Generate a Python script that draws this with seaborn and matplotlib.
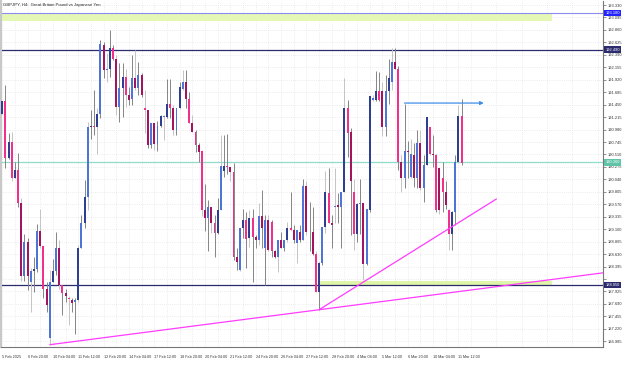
import numpy as np
import pandas as pd
import matplotlib
matplotlib.use("Agg")
import matplotlib.pyplot as plt
import matplotlib.transforms as mtransforms
import seaborn as sns

# ---------------- data (GBPJPY H4) ----------------
opens = [191.27, 191.51, 190.44, 190.74, 190.07, 190.22, 189.60, 188.22, 188.85, 188.11,
         188.32, 188.34, 189.07, 188.79, 187.98, 187.04, 188.11, 188.32, 188.75, 188.05,
         187.89, 187.80, 187.76, 187.73, 187.76, 188.74, 189.21, 189.71, 191.03, 191.05,
         191.03, 191.27, 192.58, 192.10, 192.13, 192.51, 192.32, 191.41, 191.76, 191.98,
         191.64, 191.56, 191.96, 191.76, 192.01, 191.38, 191.35, 190.69, 191.10, 190.70,
         191.05, 191.22, 191.22, 191.46, 191.39, 190.98, 191.39, 191.74, 191.88, 191.55,
         191.11, 190.94, 190.69, 190.58, 189.47, 189.32, 189.51, 189.21, 189.02, 189.46,
         190.20, 190.30, 190.28, 190.17, 188.58, 188.33, 189.13, 189.27, 188.93, 189.31,
         188.96, 188.90, 189.34, 188.74, 189.27, 189.24, 188.68, 188.58, 188.90, 188.74,
         188.90, 189.13, 189.08, 188.83, 189.05, 188.90, 189.92, 189.05, 189.05, 188.64,
         187.92, 188.46, 189.15, 189.78, 189.21, 189.51, 189.56, 189.51, 189.80, 191.39,
         190.94, 189.81, 189.00, 189.57, 189.59, 188.44, 189.46, 191.54, 191.54, 191.71,
         191.71, 191.03, 191.71, 191.88, 192.26, 192.13, 190.37, 190.06, 190.57, 190.09,
         190.50, 190.07, 190.72, 189.88, 190.31, 191.03, 190.51, 190.50, 190.25, 190.07,
         189.81, 189.46, 189.00, 189.43, 190.37, 191.24]
highs = [191.51, 191.82, 190.91, 190.93, 190.37, 190.53, 189.68, 189.00, 188.93, 188.36,
         188.58, 189.19, 189.49, 188.79, 188.11, 188.33, 188.54, 189.05, 188.90, 188.05,
         187.98, 187.83, 187.80, 187.80, 188.80, 189.37, 190.03, 191.13, 191.35, 191.73,
         191.38, 192.67, 192.64, 192.42, 192.85, 192.58, 192.39, 192.23, 192.23, 192.13,
         191.79, 192.39, 192.48, 192.25, 192.04, 191.73, 191.35, 191.10, 191.10, 191.14,
         191.25, 191.25, 191.93, 191.93, 191.44, 191.39, 191.88, 192.10, 192.10, 191.69,
         191.25, 190.97, 190.72, 190.59, 189.96, 189.66, 189.51, 189.37, 189.69, 190.88,
         190.88, 190.89, 190.28, 190.34, 188.74, 189.13, 189.49, 189.43, 189.46, 189.49,
         188.99, 189.59, 189.84, 189.37, 189.37, 189.27, 188.71, 188.90, 189.05, 188.90,
         189.24, 189.81, 189.18, 189.08, 189.18, 190.05, 190.00, 189.62, 189.52, 188.68,
         188.49, 189.15, 190.19, 190.25, 189.37, 190.25, 189.78, 189.81, 191.96, 191.54,
         191.00, 190.05, 189.59, 190.05, 189.59, 189.49, 191.61, 191.63, 192.08, 192.07,
         191.88, 192.01, 192.32, 192.51, 192.51, 192.17, 190.50, 191.47, 190.76, 190.81,
         190.72, 190.97, 190.97, 190.50, 191.22, 191.03, 190.88, 190.51, 190.25, 190.37,
         190.00, 189.49, 189.44, 190.50, 191.44, 191.55]
lows = [191.27, 190.25, 190.42, 190.00, 190.06, 189.51, 188.13, 188.13, 187.95, 187.53,
        187.92, 188.30, 188.74, 187.80, 187.54, 186.92, 188.10, 188.24, 187.98, 187.49,
        187.73, 187.29, 187.54, 187.12, 187.73, 188.74, 189.12, 189.46, 190.81, 190.88,
        190.52, 191.19, 191.96, 191.88, 191.98, 192.29, 191.25, 191.13, 191.22, 191.41,
        191.44, 191.44, 191.73, 191.63, 191.60, 190.91, 190.64, 190.64, 190.59, 190.57,
        191.03, 190.78, 191.19, 191.19, 190.88, 190.88, 191.38, 191.73, 191.38, 191.10,
        190.94, 190.56, 190.37, 189.34, 189.07, 188.69, 189.02, 188.58, 189.00, 189.46,
        190.09, 190.15, 190.00, 188.52, 188.33, 188.31, 188.93, 188.36, 188.77, 188.11,
        188.74, 188.80, 188.74, 188.05, 188.68, 188.58, 188.55, 188.30, 188.74, 188.68,
        188.86, 189.08, 188.83, 188.46, 188.86, 188.90, 188.99, 188.68, 188.61, 187.92,
        187.58, 188.42, 189.02, 189.21, 188.74, 189.21, 189.21, 188.74, 189.80, 190.47,
        188.99, 188.71, 188.86, 189.00, 188.14, 188.42, 189.42, 191.51, 191.52, 191.52,
        190.85, 190.85, 191.46, 191.73, 192.13, 190.22, 189.81, 189.87, 190.06, 190.06,
        189.90, 189.87, 189.84, 189.62, 190.31, 190.50, 190.28, 189.43, 189.38, 189.43,
        189.49, 188.71, 188.71, 189.18, 190.34, 190.31]
closes = [191.51, 190.44, 190.74, 190.07, 190.22, 189.60, 188.22, 188.85, 188.22, 188.32,
          188.34, 189.07, 188.79, 187.98, 187.66, 188.11, 188.32, 188.75, 188.05, 187.89,
          187.83, 187.78, 187.71, 187.76, 188.74, 189.21, 189.71, 191.03, 191.05, 191.03,
          191.27, 192.59, 192.10, 192.13, 192.51, 192.32, 191.41, 191.76, 191.98, 191.64,
          191.54, 191.96, 191.76, 192.01, 191.64, 191.35, 190.69, 191.10, 190.70, 191.05,
          191.24, 191.24, 191.46, 191.39, 190.98, 191.39, 191.79, 191.88, 191.55, 191.11,
          190.94, 190.69, 190.56, 189.47, 189.32, 189.51, 189.21, 189.02, 189.46, 190.30,
          190.30, 190.28, 190.17, 188.58, 188.49, 189.13, 189.27, 188.91, 189.31, 188.96,
          188.90, 189.34, 189.12, 189.27, 188.71, 188.68, 188.58, 188.90, 188.75, 188.90,
          189.13, 189.08, 188.90, 189.08, 188.90, 189.92, 189.05, 189.04, 188.64, 187.92,
          188.46, 189.15, 189.81, 189.21, 189.17, 189.53, 189.51, 189.81, 191.39, 190.92,
          190.00, 189.00, 189.57, 189.59, 188.44, 189.49, 191.61, 191.58, 191.71, 191.54,
          191.03, 191.71, 191.96, 192.26, 192.13, 190.37, 190.06, 190.57, 190.55, 190.51,
          190.07, 190.72, 189.88, 190.31, 191.22, 190.51, 190.50, 189.46, 189.46, 189.81,
          189.56, 189.00, 189.43, 190.37, 191.24, 190.35]

time_labels = ["5 Feb 2025", "6 Feb 20:00", "10 Feb 04:00", "11 Feb 12:00", "12 Feb 20:00",
               "14 Feb 04:00", "17 Feb 12:00", "18 Feb 20:00", "20 Feb 04:00", "21 Feb 12:00",
               "24 Feb 20:00", "26 Feb 04:00", "27 Feb 12:00", "28 Feb 20:00", "4 Mar 04:00",
               "5 Mar 12:00", "6 Mar 20:00", "10 Mar 04:00", "11 Mar 12:00"]
label_step = 8

price_ticks = [186.985 + 0.235 * k for k in range(28)]
hidden_tick = 188.160   # covered by the price box in the reference

# horizontal levels
level_blue = 193.18
level_top = 192.49
level_teal = 190.36
level_low = 188.05
band_top = (193.02, 193.16)
band_low = (188.05, 188.13)
band_top_x = (-1, 173.5)
band_low_x = (99.7, 173.5)

# trend lines (bar index, price)
trend1_x = [15, 100]
trend1_y = [186.92, 187.58]
trend2_x = [100, 156]
trend2_y = [187.58, 189.67]
arrow_x = [127, 152]
arrow_y = 191.48

title = "GBPJPY, H4:  Great Britain Pound vs Japanese Yen"

# ---------------- drawing ----------------
sns.set_style("white")
plt.rcParams['font.family'] = ['Liberation Sans', 'DejaVu Sans']
FSX = 2.7
FSY = 2.9

df = pd.DataFrame({"o": opens, "h": highs, "l": lows, "c": closes})
df["i"] = np.arange(len(df))
up = df["c"] >= df["o"]

fig = plt.figure(figsize=(6.25, 3.70), dpi=100)
fig.patch.set_facecolor("white")
ax = fig.add_axes([0.0016, 0.0622, 0.963, 0.935])
ax.set_facecolor("white")

XMIN, XMAX = -0.4, 189.6
YMIN, YMAX = 186.877, 193.405
ax.set_xlim(XMIN, XMAX)
ax.set_ylim(YMIN, YMAX)

# grid
ax.set_yticks(price_ticks)
ax.set_yticklabels(["" if abs(t - hidden_tick) < 1e-6 else f"{t:.3f}" for t in price_ticks])
ax.set_xticks(np.arange(0, label_step * len(time_labels), label_step))
ax.set_xticklabels(time_labels, ha="left")
ax.set_xticks(np.arange(4, 190, 8), minor=True)
ax.grid(True, which="both", linestyle=(0, (1, 2)), color="#dcdcdc", lw=0.5)
ax.set_axisbelow(True)

# bands
ax.fill_between(band_top_x, band_top[0], band_top[1], color="#e4f7b5", lw=0, zorder=1)
ax.fill_between(band_low_x, band_low[0], band_low[1], color="#dff5a8", lw=0, zorder=1)

# horizontal lines
ax.axhline(level_blue, color="#8a8af0", lw=0.8, zorder=2)
ax.axhline(level_top, color="#2b2b6e", lw=0.9, zorder=2)
ax.axhline(level_teal, color="#8fdcc8", lw=0.9, zorder=2)
ax.axhline(level_low, color="#2b2b6e", lw=0.9, zorder=2)

# candles
bull_c = np.where(df["i"] % 2 == 0, "#2e3f8f", "#4d74d6")
bear_c = np.where(df["i"] % 2 == 0, "#a3145f", "#f0308a")
body_col = np.where(up, bull_c, bear_c)
wick_col = np.where(df["i"] % 3 == 0, "#c4c4c4", "#858585")
ax.vlines(df["i"], df["l"], df["h"], colors=wick_col, lw=0.7, zorder=3)
bottoms = np.minimum(df["o"], df["c"])
heights = np.maximum(np.abs(df["c"] - df["o"]), 0.012)
ax.bar(df["i"], heights, bottom=bottoms, width=0.62, color=body_col, lw=0, zorder=4)

# trend lines
t1_slope = (trend1_y[1] - trend1_y[0]) / (trend1_x[1] - trend1_x[0])
t1 = pd.DataFrame({"x": [trend1_x[0], XMAX],
                   "y": [trend1_y[0], trend1_y[0] + t1_slope * (XMAX - trend1_x[0])]})
sns.lineplot(data=t1, x="x", y="y", ax=ax, color="#ff3cff", lw=0.9, zorder=5, estimator=None)
t2 = pd.DataFrame({"x": trend2_x, "y": trend2_y})
sns.lineplot(data=t2, x="x", y="y", ax=ax, color="#ff3cff", lw=0.9, zorder=5, estimator=None)
ax.annotate("", xy=(arrow_x[1], arrow_y), xytext=(arrow_x[0], arrow_y),
            arrowprops=dict(arrowstyle="-|>", color="#3d8ee8", lw=0.9, mutation_scale=5,
                            shrinkA=0, shrinkB=0), zorder=6)
ax.set_xlabel("")
ax.set_ylabel("")

# axes styling
ax.yaxis.tick_right()
ax.tick_params(axis="y", which="major", labelsize=FSY, length=2, width=0.5, color="#666",
               pad=1.5, labelcolor="#333")
ax.tick_params(axis="x", which="major", labelsize=FSX, length=2, width=0.5, color="#666",
               pad=4, labelcolor="#333")
ax.tick_params(axis="x", which="minor", length=0)
ax.spines["top"].set_visible(False)
ax.spines["left"].set_color("#c8c8c8")
ax.spines["left"].set_linewidth(1.5)
ax.spines["right"].set_color("#777")
ax.spines["bottom"].set_color("#777")
ax.spines["right"].set_linewidth(0.8)
ax.spines["bottom"].set_linewidth(0.8)

# price label boxes
trans = mtransforms.blended_transform_factory(ax.transAxes, ax.transData)
for val, col in [(level_blue, "#2323ff"), (level_top, "#2b2b6e"),
                 (level_teal, "#5fc4a8"), (level_low, "#2b2b6e")]:
    ax.text(1.004, val, f"{val:.3f}", transform=trans, fontsize=FSY, color="white",
            ha="left", va="center", clip_on=False, zorder=10,
            bbox=dict(boxstyle="square,pad=0.3", fc=col, ec="none"))

fig.text(0.005, 0.992, title, fontsize=3.1, color="#222", ha="left", va="top")

fig.savefig("out.png", dpi=100)
